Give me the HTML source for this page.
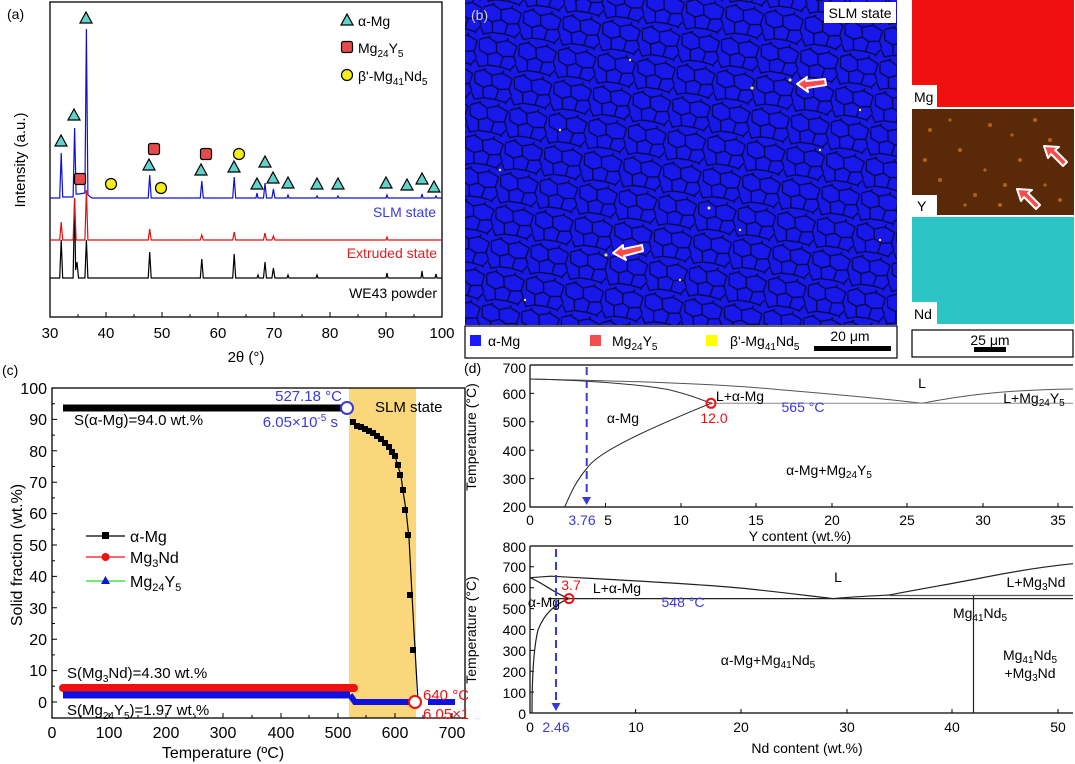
<!DOCTYPE html>
<html><head><meta charset="utf-8"><style>
html,body{margin:0;padding:0;background:#fff;}
svg{display:block;font-family:"Liberation Sans",Arial,sans-serif;}
</style></head><body>
<svg width="1075" height="764" viewBox="0 0 1075 764" xmlns="http://www.w3.org/2000/svg">
<defs>
<pattern id="grain" width="40" height="33" patternUnits="userSpaceOnUse" patternTransform="rotate(8)">
<rect width="40" height="33" fill="#1818ea"/>
<g transform="scale(0.87)">
<path d="M0,6 L10,2 L20,7 L22,18 L12,22 L2,18 Z M20,7 L32,3 L44,8 L42,20 L30,22 L22,18 Z M2,18 L12,22 L14,34 L4,37 L0,30 M12,22 L22,18 L30,22 L28,34 L14,34 Z M30,22 L42,20 L46,28 L40,36 L28,34 M10,2 L12,0 M32,3 L33,0 M4,37 L5,38 M40,36 L41,38" fill="none" stroke="#080840" stroke-width="1.5"/>
</g>
</pattern>
</defs>

<!-- ============ Panel (a) ============ -->
<text x="7" y="19" font-size="14">(a)</text>
<rect x="50" y="2" width="392" height="315" fill="none" stroke="#000" stroke-width="1.3"/>
<g stroke="#000" stroke-width="1">
<path d="M50,317v-5M78,317v-3M106,317v-5M134,317v-3M162,317v-5M190,317v-3M218,317v-5M246,317v-3M274,317v-5M302,317v-3M330,317v-5M358,317v-3M386,317v-5M414,317v-3M442,317v-5"/>
</g>
<g font-size="15" text-anchor="middle">
<text x="50" y="338">30</text><text x="106" y="338">40</text><text x="162" y="338">50</text><text x="218" y="338">60</text><text x="274" y="338">70</text><text x="330" y="338">80</text><text x="386" y="338">90</text><text x="442" y="338">100</text>
</g>
<text x="246" y="362" font-size="15" text-anchor="middle">2θ (°)</text>
<text transform="translate(25,160) rotate(-90)" font-size="15" text-anchor="middle">Intensity (a.u.)</text>
<path fill="none" stroke="#000" stroke-width="1.2" d="M50,278 L59.7,278 L61.2,240 L62.7,278 L73.1,278 L74.6,198 L75.6,270 L77,262 L78.5,278 L84.9,278 L86.4,240 L87.9,278 L148.2,278 L149.7,252 L151.2,278 L200.3,278 L201.8,259 L203.3,278 L232.7,278 L234.2,254 L235.7,278 L257,278 L258,275 L259,278 L263.5,278 L265,262 L266.5,278 L271.9,278 L273.4,268 L274.9,278 L287,278 L288,275 L289,278 L316,278 L317,275 L318,278 L386,278 L387,273 L388,278 L421,278 L422,271 L423,278 L435,278 L436,274 L437,278 L442,278"/>
<path fill="none" stroke="#e01010" stroke-width="1.2" d="M50,240 L59.7,240 L61.2,222 L62.7,240 L73.1,240 L74.6,198 L76.1,240 L84.9,240 L86.4,190 L87.9,240 L148.2,240 L149.7,229 L151.2,240 L200.3,240 L201.8,235 L203.3,240 L232.7,240 L234.2,232 L235.7,240 L263.5,240 L265,233 L266.5,240 L271.9,240 L273.4,236 L274.9,240 L386,240 L387,237 L388,240 L442,240"/>
<path fill="none" stroke="#1010d0" stroke-width="1.2" d="M50,198 L59.7,198 L61.2,153 L62.7,197 L73.1,197 L74.6,128 L76.1,194 L79,194 L84.9,193 L86.4,29 L87.9,195 L92,198 L148.2,198 L149.7,175 L151.2,198 L200.3,198 L201.8,181 L203.3,198 L232.7,198 L234.2,177 L235.7,198 L256,198 L257,193 L258,198 L263.5,198 L265,183 L266.5,198 L271.9,198 L273.4,189 L274.9,198 L287,198 L288,195 L289,198 L316,198 L317,196 L318,198 L337,198 L338,196 L339,198 L386,198 L387,195 L388,198 L421,198 L422,194 L423,198 L435,198 L436,196 L437,198 L442,198"/>
<g fill="#5fd3cc" stroke="#000" stroke-width="1.2">
<path d="M61,135l-6,11h12z M74,109l-6,11h12z M86,12l-6,11h12z M149,159l-6,11h12z M201,164l-6,11h12z M234,161l-6,11h12z M265,156l-6,11h12z M257,178l-6,11h12z M273,172l-6,11h12z M288,177l-6,11h12z M317,178l-6,11h12z M338,178l-6,11h12z M386,177l-6,11h12z M407,179l-6,11h12z M422,173l-6,11h12z M434,181l-6,11h12z M347,14l-6,11h12z"/>
</g>
<g fill="#e64a4a" stroke="#000" stroke-width="1.2">
<rect x="74.5" y="173.5" width="11" height="11" rx="2"/><rect x="148.5" y="143.5" width="11" height="11" rx="2"/><rect x="200.5" y="148.5" width="11" height="11" rx="2"/><rect x="341.5" y="41.5" width="11" height="11" rx="2"/>
</g>
<g fill="#f5ee1a" stroke="#000" stroke-width="1.2">
<circle cx="111" cy="184" r="5.5"/><circle cx="161" cy="188" r="5.5"/><circle cx="239" cy="154" r="5.5"/><circle cx="347" cy="75" r="5.5"/>
</g>
<g font-size="14">
<text x="358" y="26">α-Mg</text>
<text x="358" y="53">Mg<tspan font-size="10" dy="4">24</tspan><tspan dy="-4">Y</tspan><tspan font-size="10" dy="4">5</tspan></text>
<text x="358" y="81">β'-Mg<tspan font-size="10" dy="4">41</tspan><tspan dy="-4">Nd</tspan><tspan font-size="10" dy="4">5</tspan></text>
</g>
<g font-size="14" text-anchor="end">
<text x="436" y="217" fill="#3a3ad8">SLM state</text>
<text x="437" y="258" fill="#e02020">Extruded state</text>
<text x="437" y="298">WE43 powder</text>
</g>

<!-- ============ Panel (b) ============ -->
<rect x="465" y="0" width="432" height="325" fill="url(#grain)"/>
<g fill="#f0f040">
<circle cx="752" cy="88" r="1.5"/><circle cx="709" cy="208" r="1.5"/><circle cx="606" cy="255" r="1.5"/><circle cx="790" cy="80" r="1.5"/><circle cx="560" cy="130" r="1.2"/><circle cx="680" cy="280" r="1.2"/><circle cx="820" cy="150" r="1.2"/><circle cx="500" cy="170" r="1.2"/><circle cx="860" cy="110" r="1.2"/><circle cx="630" cy="60" r="1.2"/><circle cx="740" cy="230" r="1.2"/><circle cx="525" cy="300" r="1.2"/><circle cx="880" cy="240" r="1.2"/>
</g>
<g fill="#ff4a4a" stroke="#fff" stroke-width="2" stroke-linejoin="round">
<path d="M797,84 L807,77 L806,81 L825,79 L826,85 L807,88 L808,92 Z"/>
<path d="M613,253 L623,245 L623,249 L642,245 L643,251 L624,256 L626,260 Z"/>
</g>
<text x="471" y="20" font-size="14" fill="#ccd">(b)</text>
<rect x="824" y="2" width="72" height="21" fill="#fff"/>
<text x="860" y="18" font-size="14" text-anchor="middle">SLM state</text>
<rect x="465" y="326" width="432" height="32" fill="#fff" stroke="#000" stroke-width="1.2"/>
<rect x="470" y="335" width="11" height="11" fill="#1a1aff"/>
<text x="488" y="346" font-size="14">α-Mg</text>
<rect x="590" y="335" width="11" height="11" fill="#f05050"/>
<text x="612" y="346" font-size="14">Mg<tspan font-size="10" dy="4">24</tspan><tspan dy="-4">Y</tspan><tspan font-size="10" dy="4">5</tspan></text>
<rect x="706" y="335" width="11" height="11" fill="#ffff00"/>
<text x="730" y="346" font-size="14">β'-Mg<tspan font-size="10" dy="4">41</tspan><tspan dy="-4">Nd</tspan><tspan font-size="10" dy="4">5</tspan></text>
<text x="850" y="341" font-size="14" text-anchor="middle">20 μm</text>
<rect x="814" y="346" width="77" height="5" fill="#000"/>

<rect x="912" y="0" width="162" height="107" fill="#f01010"/>
<rect x="912" y="109" width="162" height="106" fill="#5a2a08"/>
<g fill="#c8701a" opacity="0.8">
<circle cx="930" cy="130" r="2"/><circle cx="960" cy="150" r="2"/><circle cx="990" cy="125" r="2"/><circle cx="1020" cy="160" r="2"/><circle cx="1050" cy="140" r="2"/><circle cx="940" cy="180" r="2"/><circle cx="975" cy="195" r="2"/><circle cx="1005" cy="185" r="2"/><circle cx="1060" cy="200" r="2"/><circle cx="925" cy="160" r="2"/><circle cx="1035" cy="120" r="2"/><circle cx="1000" cy="205" r="2"/><circle cx="950" cy="120" r="1.6"/><circle cx="985" cy="170" r="1.6"/><circle cx="1045" cy="185" r="1.6"/><circle cx="965" cy="205" r="1.6"/><circle cx="1012" cy="135" r="1.6"/>
</g>
<rect x="912" y="217" width="162" height="107" fill="#2cc4c4"/>
<g fill="#ff4a4a" stroke="#fff" stroke-width="2" stroke-linejoin="round">
<path d="M1044,146 L1048,158 L1051,154 L1063,166 L1067,162 L1055,150 L1059,147 Z"/>
<path d="M1017,189 L1021,201 L1024,197 L1036,209 L1040,205 L1028,193 L1032,190 Z"/>
</g>
<rect x="912" y="85" width="25" height="22" fill="#fff"/><text x="914" y="102" font-size="14">Mg</text>
<rect x="912" y="195" width="25" height="20" fill="#fff"/><text x="917" y="211" font-size="14">Y</text>
<rect x="912" y="302" width="25" height="22" fill="#fff"/><text x="914" y="319" font-size="14">Nd</text>
<rect x="912" y="330" width="161" height="27" fill="#fff" stroke="#000" stroke-width="1.2"/>
<text x="990" y="345" font-size="14" text-anchor="middle">25 μm</text>
<rect x="974" y="347" width="32" height="5" fill="#000"/>

<!-- ============ Panel (c) ============ -->
<text x="2" y="375" font-size="14">(c)</text>
<rect x="349" y="388" width="67" height="330" fill="#fad77a"/>
<rect x="52" y="388" width="413" height="330" fill="none" stroke="#000" stroke-width="1.3"/>
<g stroke="#000" stroke-width="1">
<path d="M109,718v-5M166,718v-5M223,718v-5M281,718v-5M338,718v-5M395,718v-5M452,718v-5M81,718v-3M138,718v-3M195,718v-3M252,718v-3M309,718v-3M366,718v-3M423,718v-3"/>
<path d="M52,702h5M52,670.6h5M52,639.2h5M52,607.8h5M52,576.4h5M52,545h5M52,513.6h5M52,482.2h5M52,450.8h5M52,419.4h5M52,388h5M52,686.3h3M52,654.9h3M52,623.5h3M52,592.1h3M52,560.7h3M52,529.3h3M52,497.9h3M52,466.5h3M52,435.1h3M52,403.7h3"/>
</g>
<g font-size="16" text-anchor="end">
<text x="47" y="708">0</text><text x="47" y="676">10</text><text x="47" y="645">20</text><text x="47" y="614">30</text><text x="47" y="582">40</text><text x="47" y="551">50</text><text x="47" y="519">60</text><text x="47" y="488">70</text><text x="47" y="457">80</text><text x="47" y="425">90</text><text x="47" y="394">100</text>
</g>
<g font-size="16" text-anchor="middle">
<text x="52" y="738">0</text><text x="109" y="738">100</text><text x="166" y="738">200</text><text x="223" y="738">300</text><text x="281" y="738">400</text><text x="338" y="738">500</text><text x="395" y="738">600</text><text x="452" y="738">700</text>
</g>
<text x="223" y="758" font-size="16" text-anchor="middle">Temperature (ºC)</text>
<text transform="translate(22,555) rotate(-90)" font-size="16" text-anchor="middle">Solid fraction (wt.%)</text>
<line x1="63" y1="408" x2="342" y2="408" stroke="#000" stroke-width="7"/>
<line x1="63" y1="688" x2="354" y2="688" stroke="#f01010" stroke-width="8" stroke-linecap="round"/>
<line x1="63" y1="695" x2="350" y2="695" stroke="#1010e0" stroke-width="7"/>
<path d="M350,695 L355,702 L414,702 M428,702 L455,702" stroke="#1010e0" stroke-width="6" fill="none"/>
<polyline fill="none" stroke="#000" stroke-width="1.2" points="353,422 355,425 358,427 361,428 364,429 367,431 369,432 372,434 375,436 378,438 381,440 383,442 386,445 389,448 392,451 395,456 398,466 401,476 403,491 406,510 409,538 412,595 415,649 418,702"/>
<g fill="#000">
<rect x="350" y="419" width="6" height="6"/><rect x="354" y="423" width="6" height="6"/><rect x="358" y="424" width="6" height="6"/><rect x="362" y="426" width="6" height="6"/><rect x="366" y="428" width="6" height="6"/><rect x="370" y="430" width="6" height="6"/><rect x="374" y="433" width="6" height="6"/><rect x="378" y="436" width="6" height="6"/><rect x="382" y="440" width="6" height="6"/><rect x="386" y="444" width="6" height="6"/><rect x="389" y="449" width="6" height="6"/><rect x="392" y="453" width="6" height="6"/><rect x="395" y="462" width="6" height="6"/><rect x="397" y="472" width="6" height="6"/><rect x="400" y="487" width="6" height="6"/><rect x="402" y="507" width="6" height="6"/><rect x="405" y="532" width="6" height="6"/><rect x="407" y="592" width="6" height="6"/><rect x="410" y="647" width="6" height="6"/>
</g>
<circle cx="347" cy="408" r="6" fill="#fff" stroke="#3a3ad8" stroke-width="2"/>
<circle cx="415" cy="702" r="6" fill="#fff" stroke="#f01010" stroke-width="2"/>
<line x1="86" y1="536" x2="125" y2="536" stroke="#000" stroke-width="1.3"/><rect x="102" y="532" width="7" height="7" fill="#000"/>
<line x1="86" y1="557" x2="125" y2="557" stroke="#f01010" stroke-width="1.3"/><circle cx="105.5" cy="557" r="4" fill="#f01010"/>
<line x1="86" y1="581" x2="125" y2="581" stroke="#22dd22" stroke-width="1.3"/><path d="M105.5,576l-4.5,8h9z" fill="#1010e0"/>
<g font-size="16">
<text x="130" y="542">α-Mg</text>
<text x="130" y="563">Mg<tspan font-size="11" dy="4">3</tspan><tspan dy="-4">Nd</tspan></text>
<text x="130" y="587">Mg<tspan font-size="11" dy="4">24</tspan><tspan dy="-4">Y</tspan><tspan font-size="11" dy="4">5</tspan></text>
</g>
<g font-size="15">
<text x="74" y="425">S(α-Mg)=94.0 wt.%</text>
<text x="67" y="678">S(Mg<tspan font-size="10" dy="4">3</tspan><tspan dy="-4">Nd)=4.30 wt.%</tspan></text>
<text x="67" y="715">S(Mg<tspan font-size="10" dy="4">24</tspan><tspan dy="-4">Y</tspan><tspan font-size="10" dy="4">5</tspan><tspan dy="-4">)=1.97 wt.%</tspan></text>
<text x="375" y="412">SLM state</text>
<text x="342" y="401" fill="#3a3ad8" text-anchor="end">527.18 °C</text>
<text x="338" y="427" fill="#3a3ad8" text-anchor="end">6.05×10<tspan font-size="10" dy="-6">-5</tspan><tspan dy="6"> s</tspan></text>
<text x="423" y="700" fill="#f01010">640 °C</text>
<text x="423" y="719" fill="#f01010">6.05×10<tspan font-size="10" dy="-6">-5</tspan><tspan dy="6"> s</tspan></text>
</g>

<!-- ============ Panel (d) top ============ -->
<rect x="468" y="360" width="606" height="404" fill="#fff"/>
<text x="464" y="373" font-size="14">(d)</text>
<path d="M530,365 H1073 M530,365 V507 H1073" fill="none" stroke="#000" stroke-width="1.2"/>
<g stroke="#000" stroke-width="1"><path d="M530,507v-4M605.5,507v-4M681,507v-4M756,507v-4M832,507v-4M907,507v-4M983,507v-4M1058,507v-4M530,365h4M530,393.4h4M530,421.8h4M530,450.2h4M530,478.6h4"/></g>
<g font-size="14" text-anchor="end">
<text x="526" y="373">700</text><text x="526" y="399">600</text><text x="526" y="427">500</text><text x="526" y="456">400</text><text x="526" y="484">300</text><text x="526" y="512">200</text>
</g>
<g font-size="14" text-anchor="middle">
<text x="530" y="525">0</text><text x="608" y="525">5</text><text x="681" y="525">10</text><text x="756" y="525">15</text><text x="832" y="525">20</text><text x="907" y="525">25</text><text x="983" y="525">30</text><text x="1058" y="525">35</text>
<text x="582" y="525" fill="#3a3ad8">3.76</text>
<text x="800" y="541">Y content (wt.%)</text>
</g>
<text transform="translate(476,437) rotate(-90)" font-size="14" text-anchor="middle">Temperature (°C)</text>
<g fill="none" stroke-width="1">
<path stroke="#555" d="M530,379 C620,381 700,383 760,388 C830,394 880,398 922,403.3 C960,396 1000,390 1073,389"/>
<path stroke="#333" d="M530,379 C580,380 640,384 670,390 C690,395 700,399 711,403.3"/>
<path stroke="#222" d="M711,403.3 C660,424 600,450 588,467 C575,482 570,495 564.7,507"/>
<path stroke="#888" d="M711,403.3 H1073"/>
<path stroke="#3a3ad8" stroke-width="2" stroke-dasharray="8,5" d="M586.7,367 V500"/>
</g>
<path d="M582,497 L591,497 L586.7,505 Z" fill="#3a3ad8"/>
<circle cx="711" cy="403.3" r="4.5" fill="none" stroke="#f01010" stroke-width="2"/><circle cx="711" cy="403.3" r="1.2" fill="#f01010"/>
<g font-size="14" text-anchor="middle">
<text x="922" y="388">L</text>
<text x="740" y="401">L+α-Mg</text>
<text x="803" y="412" fill="#3a3ad8">565 °C</text>
<text x="623" y="423">α-Mg</text>
<text x="714" y="423" fill="#f01010">12.0</text>
<text x="1034" y="403">L+Mg<tspan font-size="10" dy="3">24</tspan><tspan dy="-3">Y</tspan><tspan font-size="10" dy="3">5</tspan></text>
<text x="829" y="475">α-Mg+Mg<tspan font-size="10" dy="3">24</tspan><tspan dy="-3">Y</tspan><tspan font-size="10" dy="3">5</tspan></text>
</g>

<!-- ============ Panel (d) bottom ============ -->
<path d="M530,546 H1073 M530,546 V713 H1073" fill="none" stroke="#000" stroke-width="1.2"/>
<g stroke="#000" stroke-width="1"><path d="M530,713v-4M635.6,713v-4M741,713v-4M847,713v-4M952,713v-4M1058,713v-4M530,546h4M530,566.8h4M530,587.7h4M530,608.6h4M530,629.5h4M530,650.4h4M530,671.2h4M530,692.1h4"/></g>
<g font-size="14" text-anchor="end">
<text x="526" y="552">800</text><text x="526" y="572">700</text><text x="526" y="593">600</text><text x="526" y="614">500</text><text x="526" y="635">400</text><text x="526" y="656">300</text><text x="526" y="677">200</text><text x="526" y="698">100</text><text x="526" y="719">0</text>
</g>
<g font-size="14" text-anchor="middle">
<text x="530" y="732">0</text><text x="636" y="732">10</text><text x="741" y="732">20</text><text x="847" y="732">30</text><text x="952" y="732">40</text><text x="1058" y="732">50</text>
<text x="556" y="732" fill="#3a3ad8">2.46</text>
<text x="807" y="753">Nd content (wt.%)</text>
</g>
<text transform="translate(476,630) rotate(-90)" font-size="14" text-anchor="middle">Temperature (°C)</text>
<g fill="none" stroke-width="1.2">
<path stroke="#222" d="M530,577.7 L551,576.2 C620,580 700,584 740,588 C780,592 810,596 833,598.6 C850,597 870,596 889,595 C920,589 950,584 974,579.4 C1010,572 1040,567 1073,563.7"/>
<path stroke="#222" d="M530,577.7 C545,584 552,592 569,598.6"/>
<path stroke="#222" d="M569,598.6 C556,604 545,612 538,630 C533,650 532,680 532,713"/>
<path stroke="#222" d="M548,598.6 H1073"/>
<path stroke="#555" d="M889,595.5 H1073"/>
<path stroke="#222" d="M973.5,596 V713"/>
<path stroke="#3a3ad8" stroke-width="2" stroke-dasharray="8,5" d="M556,549 V706"/>
</g>
<path d="M551.5,703 L560.5,703 L556,711 Z" fill="#3a3ad8"/>
<circle cx="569" cy="598.6" r="4.5" fill="none" stroke="#f01010" stroke-width="2"/><circle cx="569" cy="598.6" r="1.2" fill="#f01010"/>
<g font-size="14" text-anchor="middle">
<text x="838" y="582">L</text>
<text x="571" y="590" fill="#f01010">3.7</text>
<text x="617" y="593">L+α-Mg</text>
<text x="544" y="607">α-Mg</text>
<text x="683" y="607" fill="#3a3ad8">548 °C</text>
<text x="1036" y="587">L+Mg<tspan font-size="10" dy="3">3</tspan><tspan dy="-3">Nd</tspan></text>
<text x="980" y="618">Mg<tspan font-size="10" dy="3">41</tspan><tspan dy="-3">Nd</tspan><tspan font-size="10" dy="3">5</tspan></text>
<text x="768" y="665">α-Mg+Mg<tspan font-size="10" dy="3">41</tspan><tspan dy="-3">Nd</tspan><tspan font-size="10" dy="3">5</tspan></text>
<text x="1030" y="660">Mg<tspan font-size="10" dy="3">41</tspan><tspan dy="-3">Nd</tspan><tspan font-size="10" dy="3">5</tspan></text>
<text x="1030" y="678">+Mg<tspan font-size="10" dy="3">3</tspan><tspan dy="-3">Nd</tspan></text>
</g>
</svg>
</body></html>
